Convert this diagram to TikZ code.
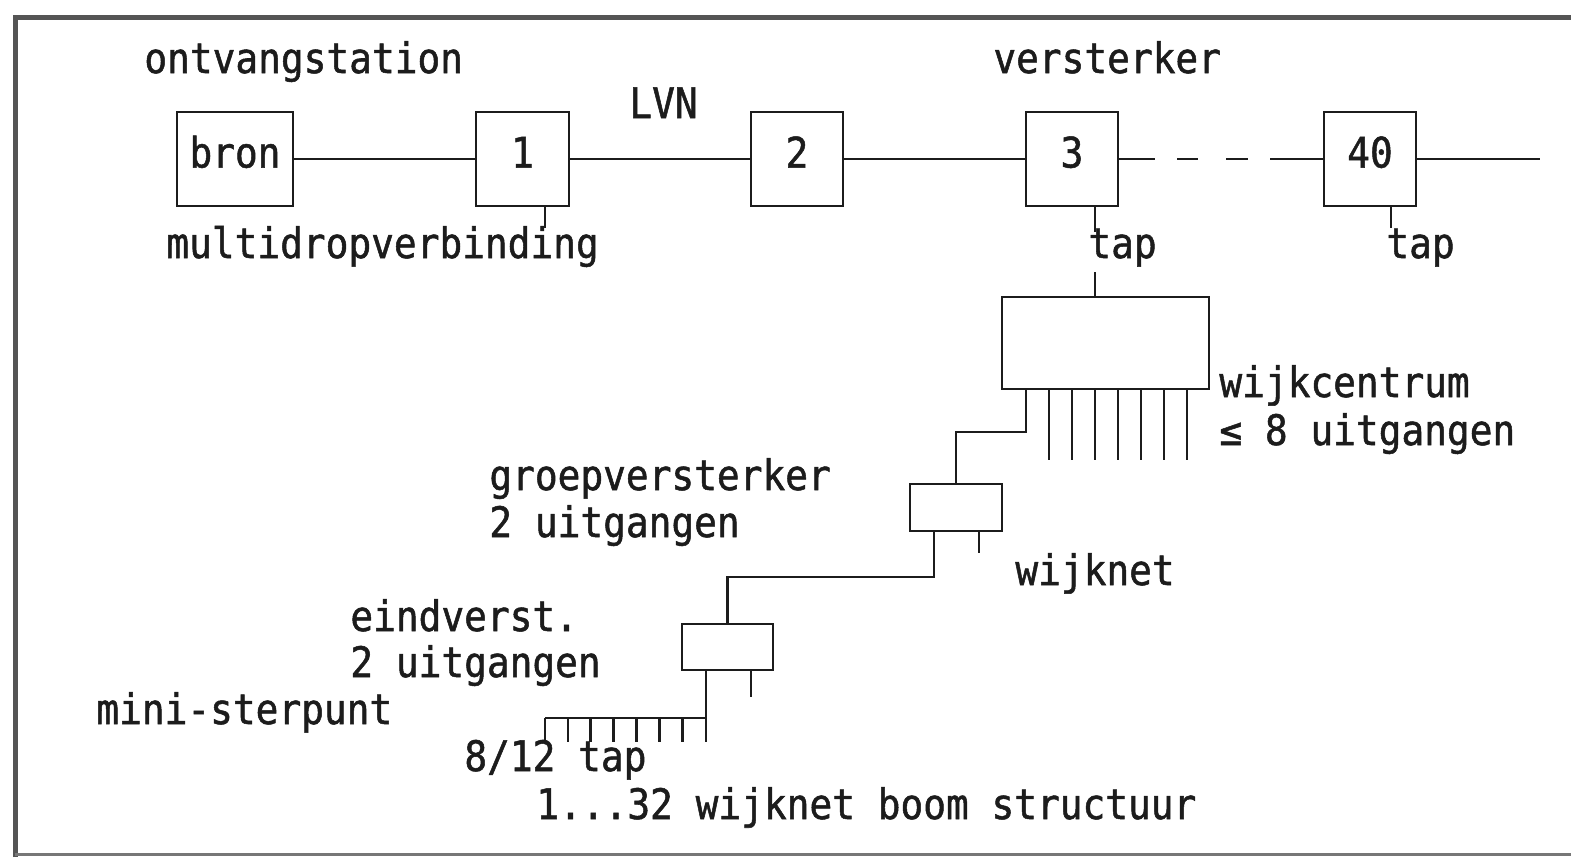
\documentclass[tikz,border=0pt]{standalone}
\usepackage{fontspec}
\newfontfamily\plotfont[FakeStretch=0.9,FakeBold=1.2]{DejaVu Sans Mono}
\definecolor{ink}{HTML}{1C1C1C}
\definecolor{framec}{HTML}{555555}
\begin{document}
\begin{tikzpicture}[x=1pt,y=-1pt,
  line width=2.8pt, draw=ink, color=ink,
  box/.style={draw=ink, line width=2.8pt, minimum width=#1, minimum height=94pt,
    inner sep=0pt, text height=31pt, text depth=14pt,
    font=\plotfont\fontsize{42}{44}\selectfont},
  smallbox/.style={draw=ink, line width=2.8pt, inner sep=0pt},
  lbl/.style={anchor=base west, inner sep=0pt, text=ink,
    font=\plotfont\fontsize{42}{44}\selectfont}]
\useasboundingbox (0,0) rectangle (1571,857);
\fill[white] (0,0) rectangle (1571,857);
% frame
\draw[line width=5pt, framec] (15,857) -- (15,17) -- (1571,17);
\draw[line width=3pt, framec!80] (15,854) -- (1571,854);

% main line boxes
\node[box=116pt] (bron) at (235,159) {bron};
\node[box=93pt] (b1) at (522.5,159) {1};
\node[box=92pt] (b2) at (797,159) {2};
\node[box=92pt] (b3) at (1072,159) {3};
\node[box=92pt] (b40) at (1370,159) {40};
\coordinate (rend) at (1540,159);

\draw (bron) -- (b1);
\draw (b1) -- (b2);
\draw (b2) -- (b3);
\draw[dash pattern=on 36pt off 22pt on 21pt off 28pt on 22pt off 22pt on 60pt] (b3) -- (b40);
\draw (b40) -- (rend);

% labels top
\node[lbl] (lontv) at (143,73) {ontvangstation};
\node[lbl] (lvers) at (992,73) {versterker};
\node[lbl] (llvn) at (628,118) {LVN};
\node[lbl] (lmulti) at (165,258) {multidropverbinding};
\node[lbl] (ltap3) at (1087,258) {tap};
\node[lbl] (ltap40) at (1385,258) {tap};

% taps
\coordinate (t1) at (545,228);
\draw (t1 |- b1.south) -- (t1);
\coordinate (t3) at (1095,232);
\draw (t3 |- b3.south) -- (t3);
\coordinate (t40) at (1391,228);
\draw (t40 |- b40.south) -- (t40);

% wijkcentrum
\node[smallbox, minimum width=207pt, minimum height=92pt] (wc) at (1105.5,343) {};
\coordinate (t3b) at (1095,272);
\draw (t3b) -- (t3b |- wc.north);
\node[lbl] (lwc) at (1218,397) {wijkcentrum};
\node[lbl] (lwc2) at (1218,445) {≤ 8 uitgangen};
\foreach \i in {1,...,7} {
  \coordinate (wo\i) at ({1026+23*\i},460);
  \draw (wo\i |- wc.south) -- (wo\i);
}

% groepversterker
\node[smallbox, minimum width=92pt, minimum height=47pt] (gv) at (956,507.5) {};
\coordinate (wcA) at (1026,432);
\draw (wcA |- wc.south) -- (wcA) -| (gv.north);
\node[lbl] (lgv) at (488,490) {groepversterker};
\node[lbl] (lgv2) at (488,537) {2 uitgangen};
\node[lbl] (lwn) at (1014,585) {wijknet};
\coordinate (gvS) at (979,553);
\draw (gvS |- gv.south) -- (gvS);

% eindversterker
\node[smallbox, minimum width=91pt, minimum height=46pt] (ev) at (727.5,647) {};
\coordinate (gvA) at (934,577);
\draw (gvA |- gv.south) -- (gvA) -| (ev.north);
\node[lbl] (lev) at (349,631) {eindverst.};
\node[lbl] (lev2) at (349,677) {2 uitgangen};
\coordinate (evS) at (751,697);
\draw (evS |- ev.south) -- (evS);
\coordinate (evA) at (706,742);
\draw (evA |- ev.south) -- (evA);
\coordinate (combL) at (545,718);
\draw (combL) -- (combL -| evA);
\foreach \i in {0,...,6} {
  \coordinate (ct\i) at ({545+22.9*\i},742);
  \draw (ct\i |- combL) -- (ct\i);
}

% bottom labels
\node[lbl] (lmini) at (95,724) {mini-sterpunt};
\node[lbl] (l812) at (463,771) {8/12 tap};
\node[lbl] (l132) at (535,819) {1...32 wijknet boom structuur};
\end{tikzpicture}
\end{document}
